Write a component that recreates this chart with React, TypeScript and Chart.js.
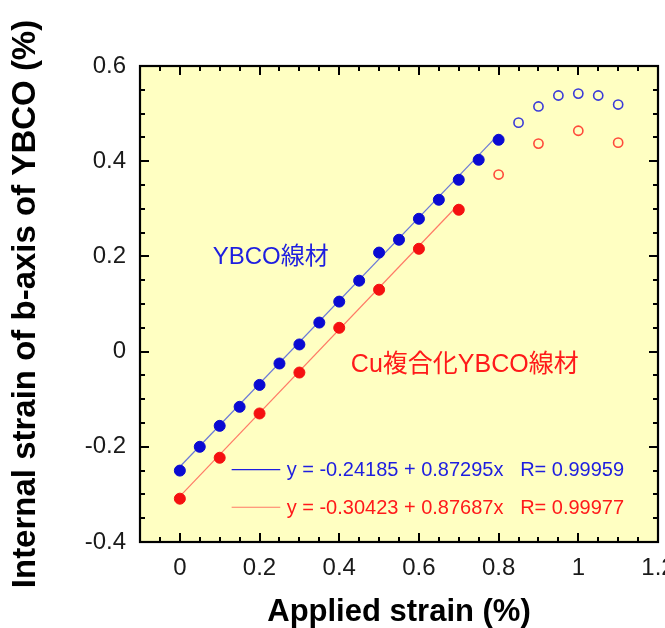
import React, { useEffect, useRef } from 'react';
import { Chart, registerables } from 'chart.js';

Chart.register(...registerables);

// ---- data ----
const ybcoStrain = [0, 0.05, 0.1, 0.15, 0.2, 0.25, 0.3, 0.35, 0.4, 0.45, 0.5, 0.55, 0.6, 0.65, 0.7, 0.75, 0.8];
const ybcoLattice = [-0.25, -0.2, -0.156, -0.116, -0.07, -0.025, 0.015, 0.061, 0.105, 0.149, 0.208, 0.235, 0.279, 0.319, 0.361, 0.403, 0.445];
const ybcoStrainOpen = [0.85, 0.9, 0.95, 1.0, 1.05, 1.1];
const ybcoLatticeOpen = [0.481, 0.515, 0.538, 0.542, 0.538, 0.519];

const cuStrain = [0, 0.1, 0.2, 0.3, 0.4, 0.5, 0.6, 0.7];
const cuLattice = [-0.309, -0.223, -0.13, -0.044, 0.05, 0.13, 0.216, 0.298];
const cuStrainOpen = [0.8, 0.9, 1.0, 1.1];
const cuLatticeOpen = [0.372, 0.437, 0.464, 0.439];

const ybcoFitRange = [0, 0.8];
const ybcoFitIntercept = -0.24185;
const ybcoFitSlope = 0.87295;
const ybcoFitR = '0.99959';

const cuFitRange = [0, 0.7];
const cuFitIntercept = -0.30423;
const cuFitSlope = 0.87687;
const cuFitR = '0.99977';

const xTicks = [0, 0.2, 0.4, 0.6, 0.8, 1.0, 1.2];
const yTicks = [-0.4, -0.2, 0, 0.2, 0.4, 0.6];

const xTitle = 'Applied strain (%)';
const yTitle = 'Internal strain of b-axis of YBCO (%)';
const ybcoLabel = 'YBCO線材';
const cuLabel = 'Cu複合化YBCO線材';

// ---- styles ----
const FONT = "'Liberation Sans', Arial, 'Noto Sans CJK JP', sans-serif";
const BLUE = '#0a0ad2';
const BLUE_OPEN = '#3a3ad8';
const BLUE_LINE = '#6a78d8';
const BLUE_TEXT = '#1e1ee0';
const RED = '#f51010';
const RED_OPEN = '#ff4a3a';
const RED_LINE = '#ff7a66';
const RED_TEXT = '#ff1a1a';
const PLOT_BG = '#ffffc2';

const fmt = (v: number) => `${+v.toFixed(2)}`;
const pts = (xs: number[], ys: number[]) => xs.map((x, i) => ({ x, y: ys[i] }));
const fitPts = (range: number[], a: number, b: number) => range.map((x) => ({ x, y: a + b * x }));

const frameAndTicks = {
  id: 'frameAndTicks',
  beforeDatasetsDraw(chart: any) {
    const { ctx, chartArea: a } = chart;
    ctx.save();
    ctx.fillStyle = PLOT_BG;
    ctx.fillRect(a.left, a.top, a.right - a.left, a.bottom - a.top);
    ctx.restore();
  },
  afterDatasetsDraw(chart: any) {
    const { ctx, chartArea: a, scales } = chart;
    const xs = scales.x;
    const ys = scales.y;
    ctx.save();
    ctx.strokeStyle = '#000';
    ctx.lineWidth = 2;
    const isMajor = (v: number) => Math.abs(v / 0.2 - Math.round(v / 0.2)) < 1e-6;
    for (let k = Math.ceil(xs.min / 0.05 - 1e-6); k * 0.05 <= xs.max + 1e-6; k++) {
      const v = k * 0.05;
      const px = Math.round(xs.getPixelForValue(v));
      const len = isMajor(v) ? 9 : 5;
      ctx.beginPath();
      ctx.moveTo(px, a.bottom);
      ctx.lineTo(px, a.bottom - len);
      ctx.moveTo(px, a.top);
      ctx.lineTo(px, a.top + len);
      ctx.stroke();
    }
    for (let k = Math.ceil(ys.min / 0.05 - 1e-6); k * 0.05 <= ys.max + 1e-6; k++) {
      const v = k * 0.05;
      const py = Math.round(ys.getPixelForValue(v));
      const len = isMajor(v) ? 9 : 5;
      ctx.beginPath();
      ctx.moveTo(a.left, py);
      ctx.lineTo(a.left + len, py);
      ctx.moveTo(a.right, py);
      ctx.lineTo(a.right - len, py);
      ctx.stroke();
    }
    ctx.lineWidth = 2.2;
    ctx.strokeRect(a.left, a.top, a.right - a.left, a.bottom - a.top);
    ctx.restore();
  },
};

const annotations = {
  id: 'annotations',
  afterDatasetsDraw(chart: any) {
    const { ctx, scales } = chart;
    const xs = scales.x;
    const ys = scales.y;
    ctx.save();
    ctx.textBaseline = 'middle';
    ctx.textAlign = 'center';
    ctx.font = `24px ${FONT}`;
    ctx.fillStyle = BLUE_TEXT;
    ctx.fillText(ybcoLabel, xs.getPixelForValue(0.228), ys.getPixelForValue(0.198));
    ctx.font = `25px ${FONT}`;
    ctx.fillStyle = RED_TEXT;
    ctx.fillText(cuLabel, xs.getPixelForValue(0.715), ys.getPixelForValue(-0.028));

    const lx0 = xs.getPixelForValue(0.13);
    const lx1 = xs.getPixelForValue(0.252);
    const tx = xs.getPixelForValue(0.268);
    const rows = [
      { y: -0.248, line: BLUE_TEXT, text: BLUE_TEXT, a: ybcoFitIntercept, b: ybcoFitSlope, r: ybcoFitR },
      { y: -0.327, line: RED_LINE, text: RED_TEXT, a: cuFitIntercept, b: cuFitSlope, r: cuFitR },
    ];
    ctx.font = `20px ${FONT}`;
    ctx.textAlign = 'left';
    rows.forEach((row) => {
      const py = ys.getPixelForValue(row.y);
      ctx.strokeStyle = row.line;
      ctx.lineWidth = 1.2;
      ctx.beginPath();
      ctx.moveTo(lx0, py);
      ctx.lineTo(lx1, py);
      ctx.stroke();
      ctx.fillStyle = row.text;
      ctx.fillText(`y = ${row.a.toFixed(5)} + ${row.b.toFixed(5)}x   R= ${row.r}`, tx, py + 1);
    });
    ctx.restore();
  },
};

export default function App() {
  const ref = useRef<HTMLCanvasElement | null>(null);
  useEffect(() => {
    document.body.style.margin = '0';
    const canvas = ref.current;
    if (!canvas) return;
    const chart = new Chart(canvas, {
      type: 'scatter',
      data: {
        datasets: [
          {
            label: 'YBCO',
            data: pts(ybcoStrain, ybcoLattice),
            pointRadius: 5.5,
            pointBackgroundColor: BLUE,
            pointBorderColor: BLUE,
            pointBorderWidth: 1,
          },
          {
            label: 'YBCO (open)',
            data: pts(ybcoStrainOpen, ybcoLatticeOpen),
            pointRadius: 4.6,
            pointBackgroundColor: 'rgba(0,0,0,0)',
            pointBorderColor: BLUE_OPEN,
            pointBorderWidth: 1.6,
          },
          {
            label: 'Cu',
            data: pts(cuStrain, cuLattice),
            pointRadius: 5.5,
            pointBackgroundColor: RED,
            pointBorderColor: RED,
            pointBorderWidth: 1,
          },
          {
            label: 'Cu (open)',
            data: pts(cuStrainOpen, cuLatticeOpen),
            pointRadius: 4.6,
            pointBackgroundColor: 'rgba(0,0,0,0)',
            pointBorderColor: RED_OPEN,
            pointBorderWidth: 1.6,
          },
          {
            label: 'YBCO fit',
            data: fitPts(ybcoFitRange, ybcoFitIntercept, ybcoFitSlope),
            showLine: true,
            pointRadius: 0,
            borderColor: BLUE_LINE,
            borderWidth: 1.2,
          },
          {
            label: 'Cu fit',
            data: fitPts(cuFitRange, cuFitIntercept, cuFitSlope),
            showLine: true,
            pointRadius: 0,
            borderColor: RED_LINE,
            borderWidth: 1.2,
          },
        ],
      },
      options: {
        animation: false,
        responsive: false,
        maintainAspectRatio: false,
        layout: { padding: { left: 0, top: 66, right: 7, bottom: 0 } },
        plugins: { legend: { display: false }, tooltip: { enabled: false } },
        scales: {
          x: {
            type: 'linear',
            min: -0.1,
            max: 1.2,
            grid: { display: false, drawTicks: false },
            border: { display: false },
            afterBuildTicks: (s: any) => {
              s.ticks = xTicks.map((value) => ({ value }));
            },
            afterFit: (s: any) => {
              s.height = 86;
              s.paddingLeft = 0;
              s.paddingRight = 0;
            },
            ticks: {
              autoSkip: false,
              maxRotation: 0,
              minRotation: 0,
              padding: 12,
              color: '#1a1a1a',
              font: { family: FONT, size: 24 },
              callback: (v: any) => fmt(Number(v)),
            },
            title: {
              display: true,
              text: xTitle,
              color: '#000',
              font: { family: FONT, size: 31, weight: 'bold' },
              padding: { top: 0, bottom: -3 },
            },
          },
          y: {
            type: 'linear',
            min: -0.4,
            max: 0.6,
            grid: { display: false, drawTicks: false },
            border: { display: false },
            afterBuildTicks: (s: any) => {
              s.ticks = yTicks.map((value) => ({ value }));
            },
            afterFit: (s: any) => {
              s.width = 140;
              s.paddingTop = 0;
              s.paddingBottom = 0;
            },
            ticks: {
              padding: 14,
              color: '#1a1a1a',
              font: { family: FONT, size: 24 },
              callback: (v: any) => fmt(Number(v)),
            },
            title: {
              display: true,
              text: yTitle,
              color: '#000',
              font: { family: FONT, size: 33, weight: 'bold' },
              padding: { top: 6, bottom: 0 },
            },
          },
        },
      },
      plugins: [frameAndTicks, annotations],
    } as any);
    return () => chart.destroy();
  }, []);
  return (
    <div style={{ position: 'absolute', left: 0, top: 0, width: 665, height: 628 }}>
      <canvas ref={ref} width={665} height={628} style={{ width: 665, height: 628, display: 'block' }} />
    </div>
  );
}
